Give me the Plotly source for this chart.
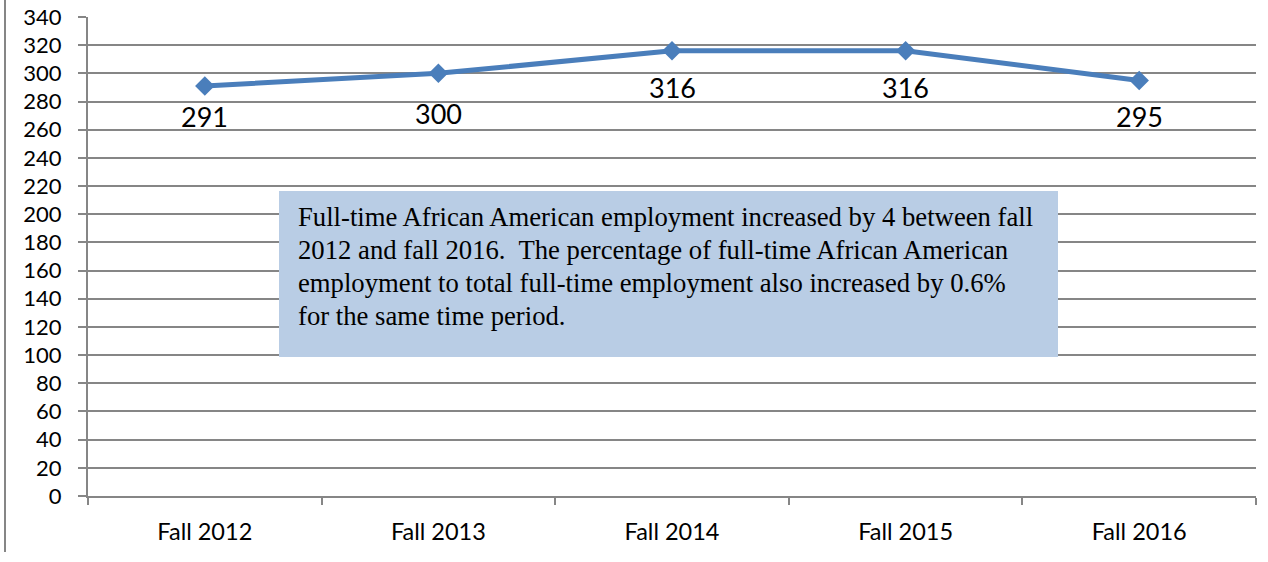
import plotly.graph_objects as go

# Full-time African American employment by fall term
terms = ["Fall 2012", "Fall 2013", "Fall 2014", "Fall 2015", "Fall 2016"]
employees = [291, 300, 316, 316, 295]
label_shift = [-30, -40, -37, -37, -36]

note_lines = [
    "Full-time African American employment increased by 4 between fall",
    "2012 and fall 2016.  The percentage of full-time African American",
    "employment to total full-time employment also increased by 0.6%",
    "for the same time period.",
]

line_blue = "#4A7EBB"
grid_gray = "#868686"
serif = "'Liberation Serif', 'Times New Roman', Times, serif"

# plot-area geometry in pixels, used to place the commentary box
PLOT_L, PLOT_W, PLOT_B, PLOT_H = 88, 1168, 496, 479


def px_x(p):
    return (p - PLOT_L) / PLOT_W


def px_y(p):
    return (PLOT_B - p) / PLOT_H


fig = go.Figure()
fig.add_trace(go.Scatter(
    x=terms, y=employees, mode="lines+markers",
    line=dict(color=line_blue, width=5),
    marker=dict(symbol="diamond", size=15, color=line_blue),
    hoverinfo="x+y", showlegend=False,
))

# value labels beneath each point
for t, v, s in zip(terms, employees, label_shift):
    fig.add_annotation(
        x=t, y=v, xref="x", yref="y", text=str(v), showarrow=False,
        yshift=s, font=dict(family="Lato", size=27, color="#000000"),
    )

# commentary box
fig.add_shape(
    type="rect", xref="paper", yref="paper",
    x0=px_x(279), x1=px_x(1058), y0=px_y(357), y1=px_y(191),
    fillcolor="#B9CDE5", line=dict(width=0), layer="above",
)
for i, line in enumerate(note_lines):
    fig.add_annotation(
        xref="paper", yref="paper", x=px_x(296), y=px_y(217 + 33 * i),
        xanchor="left", yanchor="middle", align="left", showarrow=False,
        text=line,
        font=dict(family=serif, size=26.7, color="#000000"),
    )

# outer chart border on the left
fig.add_shape(
    type="line", xref="paper", yref="paper",
    x0=px_x(5), x1=px_x(5), y0=px_y(552), y1=px_y(0),
    line=dict(color=grid_gray, width=2),
)

fig.update_xaxes(
    type="category", range=[-0.5, 4.5], tickson="boundaries",
    ticks="outside", ticklen=7, tickcolor=grid_gray, tickwidth=2,
    showline=True, linecolor=grid_gray, linewidth=2, mirror=False,
    showgrid=False, zeroline=False, automargin=False,
    ticklabelstandoff=14,
    tickfont=dict(family="Lato", size=23.5, color="#000000"),
)
fig.update_yaxes(
    range=[0, 340], dtick=20, tick0=0,
    ticks="outside", ticklen=8, tickcolor=grid_gray, tickwidth=2,
    showline=True, linecolor=grid_gray, linewidth=2, automargin=False,
    showgrid=True, gridcolor=grid_gray, gridwidth=2, zeroline=False,
    ticklabelstandoff=12,
    tickfont=dict(family="Lato", size=22, color="#000000"),
)

fig.update_layout(
    width=1268, height=562,
    margin=dict(l=88, r=12, t=17, b=66),
    paper_bgcolor="#FFFFFF", plot_bgcolor="#FFFFFF",
)

fig.write_html("out.html")
